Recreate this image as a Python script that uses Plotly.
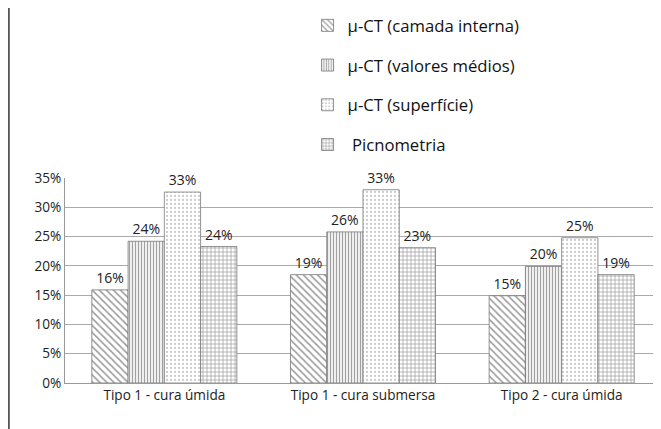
import plotly.graph_objects as go

categories = ["Tipo 1 - cura úmida", "Tipo 1 - cura submersa", "Tipo 2 - cura úmida"]
series_names = ["μ-CT (camada interna)", "μ-CT (valores médios)", "μ-CT (superfície)", " Picnometria"]
camada_interna = [0.159, 0.185, 0.149]
valores_medios = [0.242, 0.258, 0.199]
superficie = [0.326, 0.330, 0.248]
picnometria = [0.233, 0.231, 0.185]
labels_camada = ["16%", "19%", "15%"]
labels_medios = ["24%", "26%", "20%"]
labels_superficie = ["33%", "33%", "25%"]
labels_picno = ["24%", "23%", "19%"]
tick_vals = [0, 0.05, 0.10, 0.15, 0.20, 0.25, 0.30, 0.35]
tick_text = ["0%", "5%", "10%", "15%", "20%", "25%", "30%", "35%"]

FONT = "Open Sans"
series = [
    (series_names[0], camada_interna, labels_camada, dict(shape="\\", size=5, solidity=0.3, fgcolor="#333333", bgcolor="white")),
    (series_names[1], valores_medios, labels_medios, dict(shape="|", size=3, solidity=0.45, fgcolor="#444444", bgcolor="white")),
    (series_names[2], superficie, labels_superficie, dict(shape=".", size=4, solidity=0.25, fgcolor="#999999", bgcolor="white")),
    (series_names[3], picnometria, labels_picno, dict(shape="+", size=4, solidity=0.35, fgcolor="#444444", bgcolor="white")),
]

fig = go.Figure()
for i, (name, vals, labs, pat) in enumerate(series):
    fig.add_trace(go.Bar(
        x=categories, y=vals, name=name, text=labs,
        textposition="outside", cliponaxis=False,
        textfont=dict(family=FONT, size=14, color="#222222"),
        marker=dict(color="white", pattern=pat, line=dict(color="#777777", width=0.8)),
        legendgroup=str(i),
    ))

fig.update_layout(
    width=653, height=421,
    margin=dict(l=57, r=0, t=169, b=46),
    paper_bgcolor="white", plot_bgcolor="white",
    barmode="group", bargap=0.27, bargroupgap=0,
    font=dict(family=FONT, size=13.6, color="#222222"),
    legend=dict(x=0.407, y=1.828, xanchor="left", yanchor="top",
                font=dict(family=FONT, size=16.7, color="#111111"),
                tracegroupgap=15, itemwidth=30, bgcolor="rgba(0,0,0,0)"),
    showlegend=True,
    shapes=[dict(type="line", xref="paper", yref="paper",
                 x0=-0.0943, x1=-0.0943, y0=-0.3, y1=2.0,
                 line=dict(color="#555555", width=2))],
)
fig.update_xaxes(showline=True, linecolor="#999999", linewidth=1, ticks="",
                 tickfont=dict(family=FONT, size=13.6, color="#222222"))
fig.update_yaxes(range=[0, 0.35], tickvals=tick_vals, ticktext=tick_text,
                 showgrid=True, gridcolor="#aaaaaa", gridwidth=1,
                 showline=True, linecolor="#999999", zeroline=False,
                 tickfont=dict(family=FONT, size=13.6, color="#222222"))

fig.write_html("out.html")
